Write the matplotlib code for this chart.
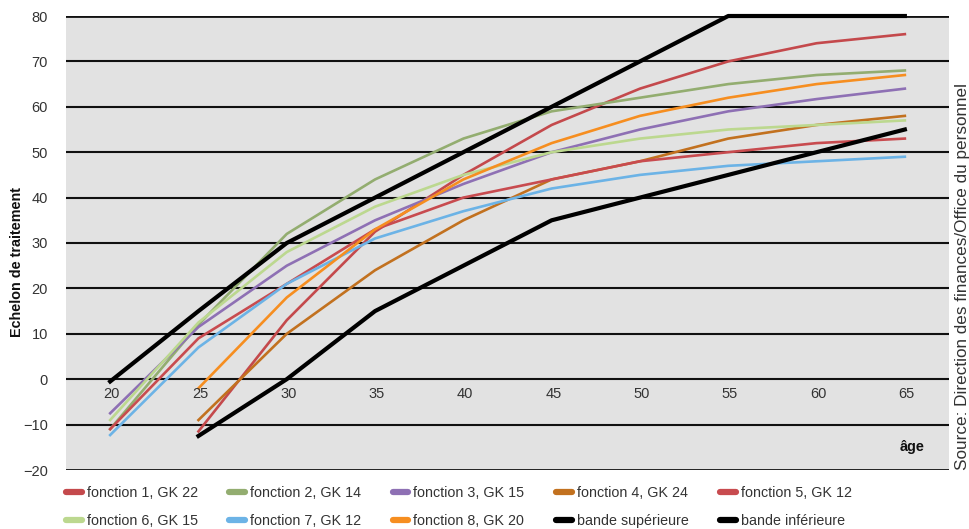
import numpy as np
import matplotlib.pyplot as plt
from matplotlib.lines import Line2D

plt.rcParams['font.family'] = ['Liberation Sans', 'DejaVu Sans']

ages = [20, 25, 30, 35, 40, 45, 50, 55, 60, 65]
nan = np.nan

f1_gk22 = [nan, -11.5, 13, 32.5, 45, 56, 64, 70, 74, 76]
f2_gk14 = [-11, 12, 32, 44, 53, 59, 62, 65, 67, 68]
f3_gk15 = [-7.5, 11.5, 25, 35, 43, 50, 55, 59, 61.7, 64]
f4_gk24 = [nan, -9, 10, 24, 35, 44, 48, 53, 56, 58]
f5_gk12 = [-11, 9, 21, 33, 40, 44, 48, 50, 52, 53]
f6_gk15 = [-9, 12.5, 28, 38, 45, 50, 53, 55, 56, 57]
f7_gk12 = [-12.3, 7, 21, 31, 37, 42, 45, 47, 48, 49]
f8_gk20 = [nan, -2, 18, 33, 44, 52, 58, 62, 65, 67]
bande_sup = [-0.5, 15, 30, 40, 50, 60, 70, 80, 80, 80]
bande_inf = [nan, -12.5, 0, 15, 25, 35, 40, 45, 50, 55]

series = [
    ('fonction 1, GK 22', f1_gk22, '#c4494c', 1.9),
    ('fonction 2, GK 14', f2_gk14, '#93ad70', 1.9),
    ('fonction 3, GK 15', f3_gk15, '#8e70b4', 1.9),
    ('fonction 4, GK 24', f4_gk24, '#c2711f', 1.9),
    ('fonction 5, GK 12', f5_gk12, '#c84b4f', 1.9),
    ('fonction 6, GK 15', f6_gk15, '#bcd88f', 1.9),
    ('fonction 7, GK 12', f7_gk12, '#6cb3e6', 1.9),
    ('fonction 8, GK 20', f8_gk20, '#f68e20', 1.9),
    ('bande supérieure', bande_sup, 'k', 3.0),
    ('bande inférieure', bande_inf, 'k', 3.0),
]

fig = plt.figure(figsize=(9.69, 5.29), dpi=100, facecolor='white')
ax = fig.add_axes([66/969, 1-470/529, (949-66)/969, (470-16)/529])
ax.set_facecolor('#e2e2e2')

for y in range(-20, 81, 10):
    ax.axhline(y, color='#111111', lw=2.0 if y in (80, -20) else 1.5, zorder=1)

for name, vals, col, lw in series:
    ax.plot(ages, vals, color=col, lw=lw, solid_joinstyle='round', zorder=3, clip_on=False)

ax.set_xlim(17.5, 67.5)
ax.set_ylim(-20, 80)
for s in ax.spines.values():
    s.set_visible(False)

ax.set_xticks([])
ax.set_yticks(range(-20, 81, 10))
ax.tick_params(axis='y', length=0, pad=13, labelsize=10.5, labelcolor='#333333')

# age labels sit just under the zero line
for a in ages:
    ax.text(a + 0.1, -3.3, str(a), ha='center', va='center', fontsize=10.5, color='#333333')
ax.text(65.4, -15, 'âge', ha='center', va='center', fontsize=10.4, fontweight='bold', color='#111111')

fig.text(17/969, 1-262/529, 'Echelon de traitement', rotation=90, ha='center', va='center',
         fontsize=10.4, fontweight='bold', color='#111111')
fig.text(963/969, 1-470/529, 'Source: Direction des finances/Office du personnel', rotation=90,
         ha='center', va='bottom', fontsize=12.3, color='#333333')

handles = {name: Line2D([], [], color=col, lw=4.5, solid_capstyle='round') for name, vals, col, lw in series}
order = [0, 5, 1, 6, 2, 7, 3, 8, 4, 9]
names = [series[i][0] for i in order]
fig.legend([handles[n] for n in names], names, ncol=5, loc='upper left',
           bbox_to_anchor=(66/969, 1-486/529), frameon=False, fontsize=10.3,
           handlelength=1.1, handletextpad=0.35, columnspacing=2.2, labelspacing=1.0,
           borderpad=0, borderaxespad=0, labelcolor='#333333')

plt.savefig('out.png', dpi=100, facecolor='white')
